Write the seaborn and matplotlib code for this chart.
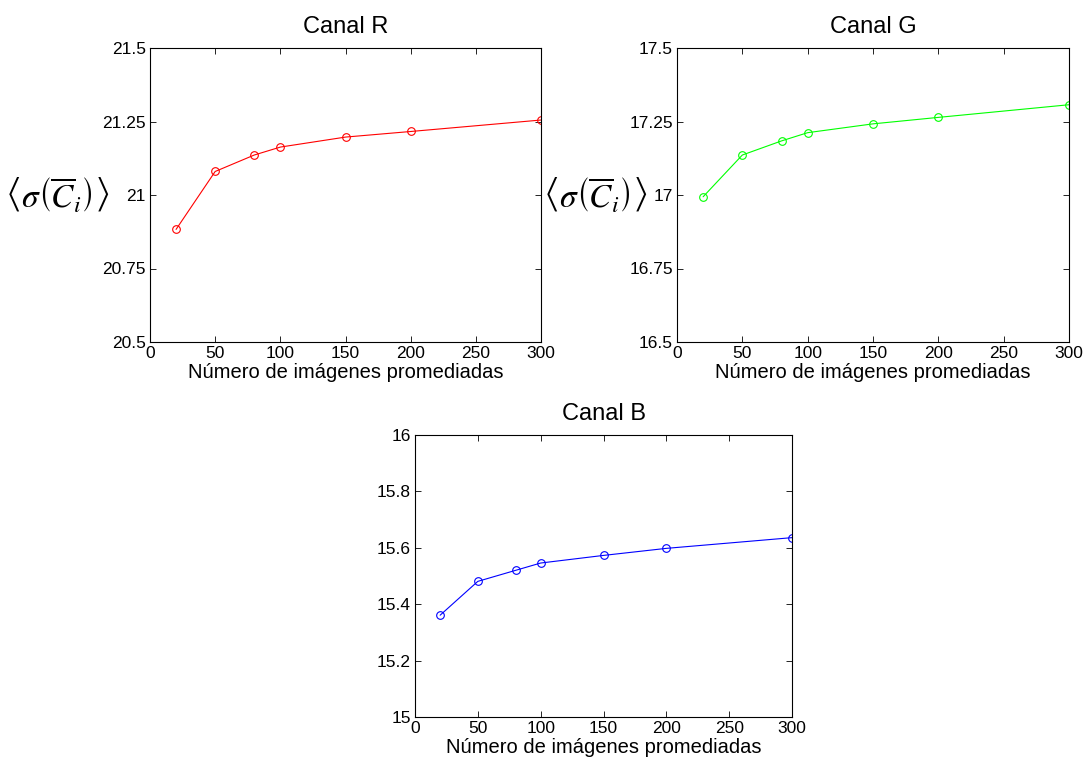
import matplotlib
matplotlib.use("Agg")
import matplotlib.pyplot as plt
import seaborn as sns
import pandas as pd

# Number of averaged images
n_images = [20, 50, 80, 100, 150, 200, 300]

# Mean standard deviation of the averaged channel, per colour channel
sigma_r = [20.883, 21.080, 21.136, 21.163, 21.197, 21.216, 21.255]
sigma_g = [16.994, 17.136, 17.184, 17.212, 17.242, 17.264, 17.307]
sigma_b = [15.361, 15.481, 15.520, 15.546, 15.573, 15.598, 15.636]

titles = ["Canal R", "Canal G", "Canal B"]
colors = ["#ff0000", "#00ff00", "#0000ff"]
y_ticks = [
    [20.5, 20.75, 21, 21.25, 21.5],
    [16.5, 16.75, 17, 17.25, 17.5],
    [15, 15.2, 15.4, 15.6, 15.8, 16],
]
y_ticklabels = [
    ["20.5", "20.75", "21", "21.25", "21.5"],
    ["16.5", "16.75", "17", "17.25", "17.5"],
    ["15", "15.2", "15.4", "15.6", "15.8", "16"],
]
x_ticks = [0, 50, 100, 150, 200, 250, 300]
xlabel = "Número de imágenes promediadas"
ylabel = r"$\left\langle \sigma\left(\overline{C}_{i}\right)\right\rangle$"

sns.set_style("ticks")
plt.rcParams["font.family"] = ["Liberation Sans", "DejaVu Sans"]
plt.rcParams["mathtext.fontset"] = "stix"
plt.rcParams["text.color"] = "black"
plt.rcParams["axes.labelcolor"] = "black"
plt.rcParams["xtick.color"] = "black"
plt.rcParams["ytick.color"] = "black"

fig = plt.figure(figsize=(10.84, 7.6), dpi=100)
W, H = 1084, 760
boxes = [
    (150, 48, 541, 342),
    (677, 48, 1069, 342),
    (415, 435, 792, 717),
]
ylabel_x = [-0.238, -0.209, None]

series = [sigma_r, sigma_g, sigma_b]
for i, (x0, y0, x1, y1) in enumerate(boxes):
    ax = fig.add_axes([x0 / W, 1 - y1 / H, (x1 - x0) / W, (y1 - y0) / H])
    df = pd.DataFrame({"n": n_images, "s": series[i]})
    sns.lineplot(data=df, x="n", y="s", ax=ax, color=colors[i], lw=0.8,
                 marker="o", markersize=5.5, markerfacecolor="none",
                 markeredgecolor=colors[i], markeredgewidth=0.8)
    ax.set_xlim(0, 300)
    ax.set_ylim(y_ticks[i][0], y_ticks[i][-1])
    ax.set_xticks(x_ticks)
    ax.set_xticklabels([str(t) for t in x_ticks])
    ax.set_yticks(y_ticks[i])
    ax.set_yticklabels(y_ticklabels[i])
    ax.tick_params(direction="in", length=4, width=0.6, labelsize=12.5,
                   pad=3, top=True, right=True, colors="black")
    for sp in ax.spines.values():
        sp.set_visible(True)
        sp.set_linewidth(0.8)
        sp.set_color("black")
    ax.set_title(titles[i], fontsize=17, pad=11, color="black")
    ax.set_xlabel(xlabel, fontsize=14.5, labelpad=1, color="black")
    if ylabel_x[i] is not None:
        ax.set_ylabel(ylabel, fontsize=24, rotation=0, ha="center", va="center",
                      color="black")
        ax.yaxis.set_label_coords(ylabel_x[i], 0.5)
    else:
        ax.set_ylabel("")

fig.savefig("out.png", dpi=100, facecolor="white")
